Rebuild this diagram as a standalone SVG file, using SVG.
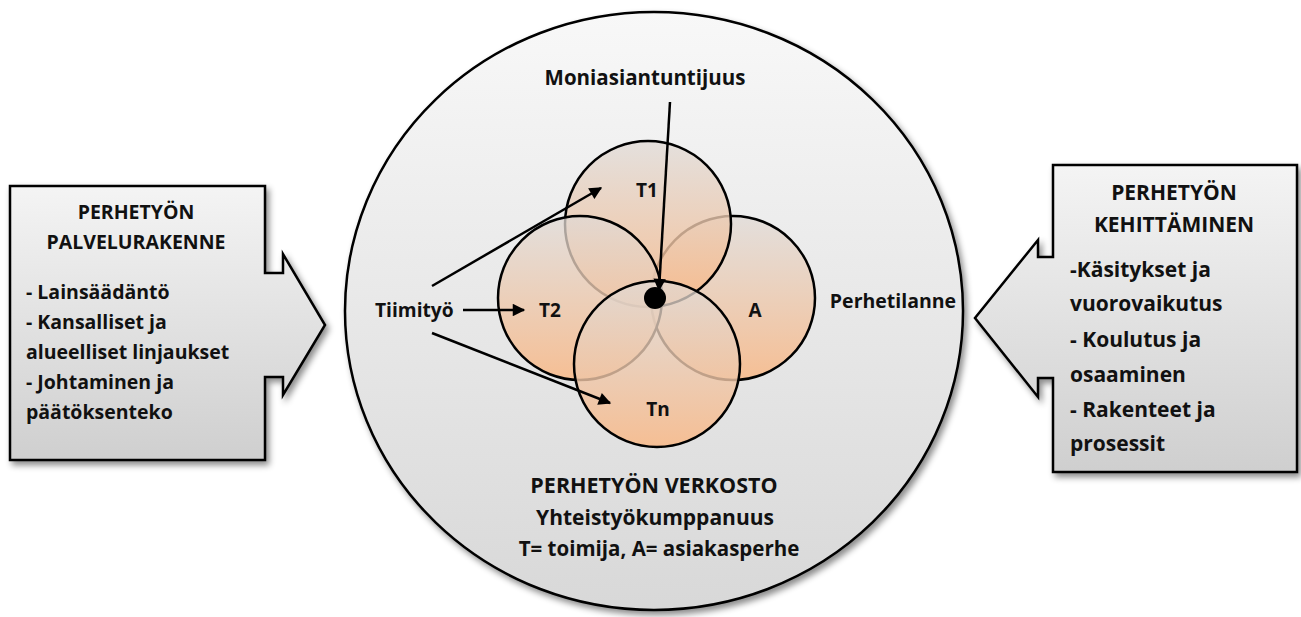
<svg xmlns="http://www.w3.org/2000/svg" width="1301" height="617" viewBox="0 0 1301 617">
<style>
.t{font-family:"Open Sans","Liberation Sans",sans-serif;font-weight:bold;fill:#111}
.ln{stroke:#000;stroke-width:2.5;fill:none}
.vc{stroke:#000;stroke-width:2.5;fill:url(#peach)}
</style>
<defs>
<linearGradient id="boxg" x1="0" y1="0" x2="0" y2="1"><stop offset="0" stop-color="#f4f4f4"/><stop offset="1" stop-color="#cfcfcf"/></linearGradient>
<linearGradient id="bigg" x1="0" y1="0" x2="0" y2="1"><stop offset="0" stop-color="#f8f8f8"/><stop offset="1" stop-color="#d8d8d8"/></linearGradient>
<linearGradient id="peach" x1="0" y1="0" x2="0" y2="1"><stop offset="0" stop-color="#e0dad6" stop-opacity="0.75"/><stop offset="1" stop-color="#f9b886" stop-opacity="0.85"/></linearGradient>
<filter id="sh" x="-10%" y="-10%" width="125%" height="125%"><feDropShadow dx="3" dy="4" stdDeviation="3" flood-color="#000" flood-opacity="0.45"/></filter>
<marker id="ah" viewBox="0 0 10 10" refX="9" refY="5" markerWidth="5.5" markerHeight="5" orient="auto" markerUnits="strokeWidth"><path d="M0,0 L10,5 L0,10 Z" fill="#000"/></marker>
</defs>
<rect width="1301" height="617" fill="#fff"/>

<g id="left-box">
<path d="M10,186 H265 V273 H283 V254 L325,325 L283,395 V377 H265 V460 H10 Z" fill="url(#boxg)" stroke="#000" stroke-width="2.5" filter="url(#sh)"/>
<text class="t" font-size="19.5" text-anchor="middle" x="136" y="219">PERHETYÖN</text>
<text class="t" font-size="19.5" text-anchor="middle" x="136" y="249">PALVELURAKENNE</text>
<text class="t" font-size="19.5" x="26" y="299">- Lainsäädäntö</text>
<text class="t" font-size="19.5" x="26" y="329">- Kansalliset ja</text>
<text class="t" font-size="19.5" x="26" y="359">alueelliset linjaukset</text>
<text class="t" font-size="19.5" x="26" y="389">- Johtaminen ja</text>
<text class="t" font-size="19.5" x="26" y="419">päätöksenteko</text>
</g>

<g id="right-box">
<path d="M1297,165 H1053 V257 H1038 V240 L975,318 L1038,397 V378 H1053 V472 H1297 Z" fill="url(#boxg)" stroke="#000" stroke-width="2.5" filter="url(#sh)"/>
<text class="t" font-size="21" text-anchor="middle" x="1174" y="200">PERHETYÖN</text>
<text class="t" font-size="21" text-anchor="middle" x="1174" y="232">KEHITTÄMINEN</text>
<text class="t" font-size="21" x="1070" y="277">-Käsitykset ja</text>
<text class="t" font-size="21" x="1070" y="311">vuorovaikutus</text>
<text class="t" font-size="21" x="1070" y="347">- Koulutus ja</text>
<text class="t" font-size="21" x="1070" y="382">osaaminen</text>
<text class="t" font-size="21" x="1070" y="417">- Rakenteet ja</text>
<text class="t" font-size="21" x="1070" y="451">prosessit</text>
</g>

<g id="network">
<ellipse cx="654" cy="311" rx="309" ry="299" fill="url(#bigg)" stroke="#000" stroke-width="2.5" filter="url(#sh)"/>
<text class="t" font-size="20.5" text-anchor="middle" x="645" y="85">Moniasiantuntijuus</text>
<text class="t" font-size="19.5" text-anchor="middle" x="893" y="308">Perhetilanne</text>
<text class="t" font-size="19.2" x="375" y="317">Tiimityö</text>
<text class="t" font-size="21.5" text-anchor="middle" x="654" y="493">PERHETYÖN VERKOSTO</text>
<text class="t" font-size="21" text-anchor="middle" x="655" y="525">Yhteistyökumppanuus</text>
<text class="t" font-size="20.5" text-anchor="middle" x="659" y="556">T= toimija, A= asiakasperhe</text>
</g>

<g id="A"><circle class="vc" cx="733" cy="298" r="82"/><text class="t" font-size="19" text-anchor="middle" x="755" y="317">A</text></g>
<g id="T1"><circle class="vc" cx="648" cy="224" r="83"/><text class="t" font-size="19" text-anchor="middle" x="647" y="197">T1</text></g>
<g id="T2"><circle class="vc" cx="580" cy="298" r="82"/><text class="t" font-size="19" text-anchor="middle" x="550" y="317">T2</text></g>
<g id="Tn"><circle class="vc" cx="657" cy="364" r="83"/><text class="t" font-size="19" text-anchor="middle" x="658" y="416">Tn</text></g>
<g id="family-dot"><circle cx="655" cy="298" r="11" fill="#000"/></g>

<g id="connectors">
<line class="ln" x1="670" y1="102" x2="659" y2="290" marker-end="url(#ah)"/>
<line class="ln" x1="432" y1="286" x2="601" y2="188" marker-end="url(#ah)"/>
<line class="ln" x1="463" y1="310" x2="524" y2="310" marker-end="url(#ah)"/>
<line class="ln" x1="432" y1="333" x2="610" y2="403" marker-end="url(#ah)"/>
</g>
</svg>
